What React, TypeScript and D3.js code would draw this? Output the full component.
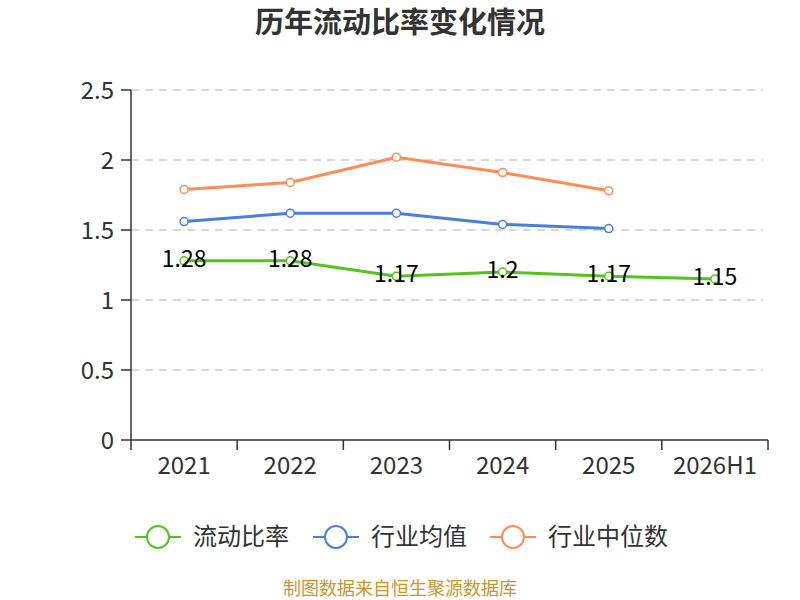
import React from "react";
import * as d3 from "d3";

const years = ["2021", "2022", "2023", "2024", "2025", "2026H1"];
const currentRatio = [1.28, 1.28, 1.17, 1.2, 1.17, 1.15];
const industryMean = [1.56, 1.62, 1.62, 1.54, 1.51];
const industryMedian = [1.79, 1.84, 2.02, 1.91, 1.78];
const yTicks = [0, 0.5, 1, 1.5, 2, 2.5];

const seriesList = [
  { name: "流动比率", values: currentRatio, color: "#52c41a" },
  { name: "行业均值", values: industryMean, color: "#4a7fe0" },
  { name: "行业中位数", values: industryMedian, color: "#ff8c55" },
];

const W = 800;
const H = 600;
const left = 131;
const right = 768;
const top = 90;
const bottom = 440;
const font = "'Noto Sans CJK SC', 'Noto Sans', sans-serif";

export default function App() {
  const x = d3.scaleBand<string>().domain(years).range([left, right]);
  const y = d3.scaleLinear().domain([0, 2.5]).range([bottom, top]);
  const cx = (i: number) => (x(years[i]) || 0) + x.bandwidth() / 2;

  const line = d3
    .line<number>()
    .x((_, i) => cx(i))
    .y((d) => y(d));

  const legendX = [135, 313, 490];

  return (
    <svg width={W} height={H} style={{ position: "absolute", left: 0, top: 0 }} fontFamily={font}>
      <rect width={W} height={H} fill="#fff" />
      <text x={400} y={33} textAnchor="middle" fontSize={29} fontWeight="bold" fill="#333">
        历年流动比率变化情况
      </text>

      {/* grid + y ticks */}
      {yTicks.map((t) => (
        <g key={t}>
          {t > 0 && (
            <line x1={left} x2={right - 5} y1={y(t)} y2={y(t)} stroke="#ccc" strokeDasharray="8,6" strokeWidth={1.5} />
          )}
          <line x1={left - 10} x2={left} y1={y(t)} y2={y(t)} stroke="#333" strokeWidth={1.5} />
          <text x={left - 17} y={y(t)} dy="0.36em" textAnchor="end" fontSize={24} fill="#333">
            {t}
          </text>
        </g>
      ))}
      <line x1={left} x2={left} y1={top} y2={bottom} stroke="#333" strokeWidth={1.5} />
      <line x1={left} x2={right} y1={bottom} y2={bottom} stroke="#333" strokeWidth={1.5} />
      {years.map((yr) => (
        <line key={"t" + yr} x1={x(yr)} x2={x(yr)} y1={bottom} y2={bottom + 10} stroke="#333" strokeWidth={1.5} />
      ))}
      <line x1={right} x2={right} y1={bottom} y2={bottom + 10} stroke="#333" strokeWidth={1.5} />
      {years.map((yr, i) => (
        <text key={"l" + yr} x={cx(i)} y={bottom + 34} textAnchor="middle" fontSize={24} fill="#333">
          {yr}
        </text>
      ))}

      {seriesList.map((s) => (
        <g key={s.name}>
          <path d={line(s.values) || ""} fill="none" stroke={s.color} strokeWidth={3} />
          {s.values.map((v, i) => (
            <circle key={i} cx={cx(i)} cy={y(v)} r={4} fill="#fff" stroke={s.color} strokeWidth={1.5} />
          ))}
        </g>
      ))}
      {currentRatio.map((v, i) => (
        <text key={"v" + i} x={cx(i)} y={y(v) + 6} textAnchor="middle" fontSize={23} fill="#000">
          {v}
        </text>
      ))}

      {/* legend */}
      {seriesList.map((s, i) => (
        <g key={"lg" + s.name} transform={`translate(${legendX[i]},537)`}>
          <line x1={0} x2={46} y1={0} y2={0} stroke={s.color} strokeWidth={2} />
          <circle cx={23} cy={0} r={11} fill="#fff" stroke={s.color} strokeWidth={2} />
          <text x={58} y={0} dy="0.35em" fontSize={24} fill="#333">
            {s.name}
          </text>
        </g>
      ))}

      <text x={400} y={595} textAnchor="middle" fontSize={18} fill="#c8962a">
        制图数据来自恒生聚源数据库
      </text>
    </svg>
  );
}
